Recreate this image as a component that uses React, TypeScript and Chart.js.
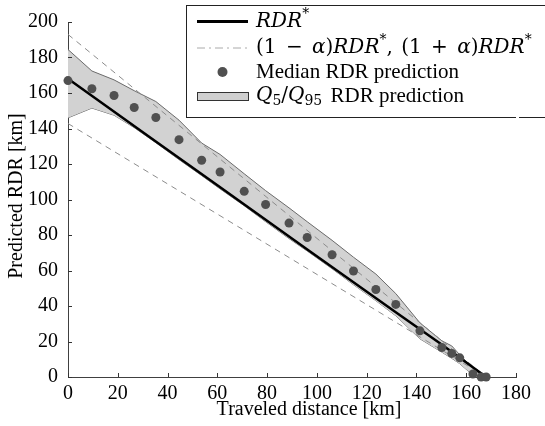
import React, { useEffect, useRef } from "react";
import { Chart, registerables } from "chart.js";

Chart.register(...registerables);

// ---- data ----
const xTicks = [0, 20, 40, 60, 80, 100, 120, 140, 160, 180];
const yTicks = [0, 20, 40, 60, 80, 100, 120, 140, 160, 180, 200];

const sampleX = [0, 9.6, 18.5, 26.6, 35.3, 44.6, 53.7, 61.1, 70.8, 79.4, 88.8, 96.1, 106.1, 114.7, 123.7, 131.7, 141.4, 150.2, 154.2, 157.4, 162.7, 166, 168];
const medianY = [167, 162.4, 158.6, 151.8, 146.2, 133.7, 122.1, 115.5, 104.6, 97.2, 86.7, 78.6, 68.9, 59.7, 49.3, 40.9, 26, 16.6, 13.3, 10.8, 1.7, 0, 0];
const q95Y = [184.5, 172.4, 167.4, 161.3, 155.2, 144.7, 131.8, 125.4, 114.5, 105, 95.3, 87.5, 77, 67.5, 58, 47, 30.5, 20.4, 17.5, 12.5, 5, 1, 0];
const q5Y = [146, 151.5, 147.5, 140.5, 132, 122.5, 113.5, 106, 96.5, 87.5, 78, 71, 61, 52, 43, 34.5, 21.5, 14, 10.5, 7.5, 1, 0, 0];

const rdrX = [0, 35, 61, 96, 131.7, 150, 168];
const rdrY = [168, 133, 107, 72, 36.5, 18.5, 0];

const alphaLineX = [0, 168];
const upperAlphaY = [193, 0];
const lowerAlphaY = [142.8, 0];

const xTitle = "Traveled distance [km]";
const yTitle = "Predicted RDR [km]";

const SERIF = "'Liberation Serif', 'DejaVu Serif', serif";
const MATH = "'DejaVu Serif', 'Liberation Serif', serif";

const pts = (xs: number[], ys: number[]) => xs.map((x, i) => ({ x, y: ys[i] }));

type Part = { t: string; it?: boolean; sup?: boolean; sub?: boolean; m?: boolean; gap?: number };

function drawRich(ctx: CanvasRenderingContext2D, x: number, y: number, parts: Part[]) {
  let cx = x;
  ctx.textBaseline = "middle";
  ctx.textAlign = "left";
  for (const p of parts) {
    if (p.gap) {
      cx += p.gap;
      continue;
    }
    const small = p.sup || p.sub;
    const base = p.m ? 20 : 21;
    const size = small ? Math.round(base * 0.7) : base;
    ctx.font = `${p.it ? "italic " : ""}${size}px ${p.m ? MATH : SERIF}`;
    const dy = p.sup ? -7 : p.sub ? 5 : 0;
    ctx.fillStyle = "#000";
    ctx.fillText(p.t, cx, y + dy);
    cx += ctx.measureText(p.t).width;
  }
  return cx;
}

const decorPlugin = {
  id: "decor",
  afterDraw(chart: any) {
    const ctx: CanvasRenderingContext2D = chart.ctx;
    const xs = chart.scales.x;
    const ys = chart.scales.y;
    const area = chart.chartArea;
    ctx.save();
    // inward tick marks
    ctx.strokeStyle = "#333";
    ctx.lineWidth = 1;
    ctx.beginPath();
    for (const v of xTicks) {
      const px = Math.round(xs.getPixelForValue(v)) + 0.5;
      ctx.moveTo(px, area.bottom);
      ctx.lineTo(px, area.bottom - 4);
    }
    for (const v of yTicks) {
      const py = Math.round(ys.getPixelForValue(v)) + 0.5;
      ctx.moveTo(area.left, py);
      ctx.lineTo(area.left + 4, py);
    }
    ctx.stroke();

    // axis titles
    ctx.fillStyle = "#000";
    ctx.font = `20px ${SERIF}`;
    ctx.textAlign = "center";
    ctx.textBaseline = "middle";
    ctx.fillText(xTitle, 309, 410);
    ctx.save();
    ctx.translate(17, 196);
    ctx.rotate(-Math.PI / 2);
    ctx.fillText(yTitle, 0, 0);
    ctx.restore();

    // legend box
    const lx = 186.5, ly = 5.5, lr = 560, lb = 117.5;
    ctx.fillStyle = "#fff";
    ctx.fillRect(lx, ly, lr - lx, lb - ly);
    ctx.strokeStyle = "#222";
    ctx.lineWidth = 1;
    ctx.strokeRect(lx, ly, lr - lx, lb - ly);
    ctx.fillStyle = "#fff";
    ctx.fillRect(516, lb - 1, 3, 2);

    const sx0 = 197, sx1 = 248, tx = 256;
    const rows = [21.5, 47.5, 72, 96];
    // row 1
    ctx.strokeStyle = "#000";
    ctx.lineWidth = 3;
    ctx.beginPath();
    ctx.moveTo(sx0, rows[0]);
    ctx.lineTo(sx1, rows[0]);
    ctx.stroke();
    drawRich(ctx, tx, rows[0], [{ t: "RDR", it: true, m: true }, { t: "*", sup: true, m: true }]);
    // row 2
    ctx.strokeStyle = "#aaa";
    ctx.lineWidth = 1;
    ctx.setLineDash([8, 4, 2, 4]);
    ctx.beginPath();
    ctx.moveTo(sx0, rows[1] + 0.5);
    ctx.lineTo(sx1, rows[1] + 0.5);
    ctx.stroke();
    ctx.setLineDash([]);
    drawRich(ctx, tx, rows[1], [
      { t: "(1 ", m: true },
      { t: "", gap: 3 },
      { t: "\u2212", m: true },
      { t: "", gap: 3 },
      { t: " ", m: true },
      { t: "\u03b1", it: true, m: true },
      { t: ")", m: true },
      { t: "RDR", it: true, m: true },
      { t: "*", sup: true, m: true },
      { t: ", ", m: true },
      { t: "", gap: 2 },
      { t: "(1 ", m: true },
      { t: "", gap: 3 },
      { t: "+", m: true },
      { t: "", gap: 3 },
      { t: " ", m: true },
      { t: "\u03b1", it: true, m: true },
      { t: ")", m: true },
      { t: "RDR", it: true, m: true },
      { t: "*", sup: true, m: true },
    ]);
    // row 3
    ctx.fillStyle = "#505050";
    ctx.beginPath();
    ctx.arc((sx0 + sx1) / 2, rows[2], 5, 0, Math.PI * 2);
    ctx.fill();
    drawRich(ctx, tx, rows[2], [{ t: "Median RDR prediction" }]);
    // row 4
    ctx.fillStyle = "#d0d0d0";
    ctx.fillRect(sx0, rows[3] - 4, sx1 - sx0, 8);
    ctx.strokeStyle = "#333";
    ctx.lineWidth = 1;
    ctx.strokeRect(sx0 + 0.5, rows[3] - 3.5, sx1 - sx0, 8);
    drawRich(ctx, tx, rows[3], [
      { t: "Q", it: true, m: true },
      { t: "5", sub: true, m: true },
      { t: "/", m: true },
      { t: "Q", it: true, m: true },
      { t: "95", sub: true, m: true },
      { t: "", gap: 3 },
      { t: " RDR prediction" },
    ]);
    ctx.restore();
  },
};

export default function App() {
  const ref = useRef<HTMLCanvasElement | null>(null);
  useEffect(() => {
    if (!ref.current) return;
    const chart = new Chart(ref.current, {
      type: "scatter",
      data: {
        datasets: [
          {
            label: "q5",
            data: pts(sampleX, q5Y),
            showLine: true,
            borderColor: "#6a6a6a",
            borderWidth: 1,
            pointRadius: 0,
            fill: false,
            order: 5,
          } as any,
          {
            label: "q95",
            data: pts(sampleX, q95Y),
            showLine: true,
            borderColor: "#6a6a6a",
            borderWidth: 1,
            pointRadius: 0,
            fill: "-1",
            backgroundColor: "#d2d2d2",
            order: 4,
          } as any,
          {
            label: "upper",
            data: pts(alphaLineX, upperAlphaY),
            showLine: true,
            borderColor: "#8c8c8c",
            borderWidth: 1,
            borderDash: [6, 5],
            pointRadius: 0,
            order: 3,
          } as any,
          {
            label: "lower",
            data: pts(alphaLineX, lowerAlphaY),
            showLine: true,
            borderColor: "#8c8c8c",
            borderWidth: 1,
            borderDash: [6, 5],
            pointRadius: 0,
            order: 3,
          } as any,
          {
            label: "RDR*",
            data: pts(rdrX, rdrY),
            showLine: true,
            borderColor: "#000",
            borderWidth: 2.5,
            pointRadius: 0,
            order: 2,
          } as any,
          {
            label: "median",
            data: pts(sampleX, medianY),
            showLine: false,
            pointRadius: 4.5,
            pointBackgroundColor: "#505050",
            pointBorderColor: "#505050",
            pointBorderWidth: 0,
            clip: false,
            order: 1,
          } as any,
        ],
      },
      options: {
        animation: false,
        responsive: false,
        devicePixelRatio: 1,
        layout: { padding: { top: 15, right: 29, left: 0, bottom: 0 } },
        plugins: { legend: { display: false }, tooltip: { enabled: false } },
        elements: { line: { tension: 0 } },
        scales: {
          x: {
            type: "linear",
            min: 0,
            max: 180,
            afterBuildTicks: (s: any) => {
              s.ticks = xTicks.map((v) => ({ value: v }));
            },
            afterFit: (s: any) => {
              s.height = 49;
            },
            ticks: { font: { family: SERIF, size: 20 }, color: "#000", padding: 5, maxRotation: 0, autoSkip: false },
            grid: { display: false, drawTicks: false },
            border: { display: true, color: "#404040", width: 1 },
          },
          y: {
            type: "linear",
            min: 0,
            max: 200,
            afterBuildTicks: (s: any) => {
              s.ticks = yTicks.map((v) => ({ value: v }));
            },
            afterFit: (s: any) => {
              s.width = 68;
            },
            ticks: { font: { family: SERIF, size: 20 }, color: "#000", padding: 10, autoSkip: false },
            grid: { display: false, drawTicks: false },
            border: { display: true, color: "#404040", width: 1 },
          },
        },
      },
      plugins: [decorPlugin],
    } as any);
    return () => chart.destroy();
  }, []);
  return (
    <div style={{ position: "fixed", left: 0, top: 0, width: 545, height: 426, background: "#fff" }}>
      <canvas ref={ref} width={545} height={426} style={{ display: "block" }} />
    </div>
  );
}
